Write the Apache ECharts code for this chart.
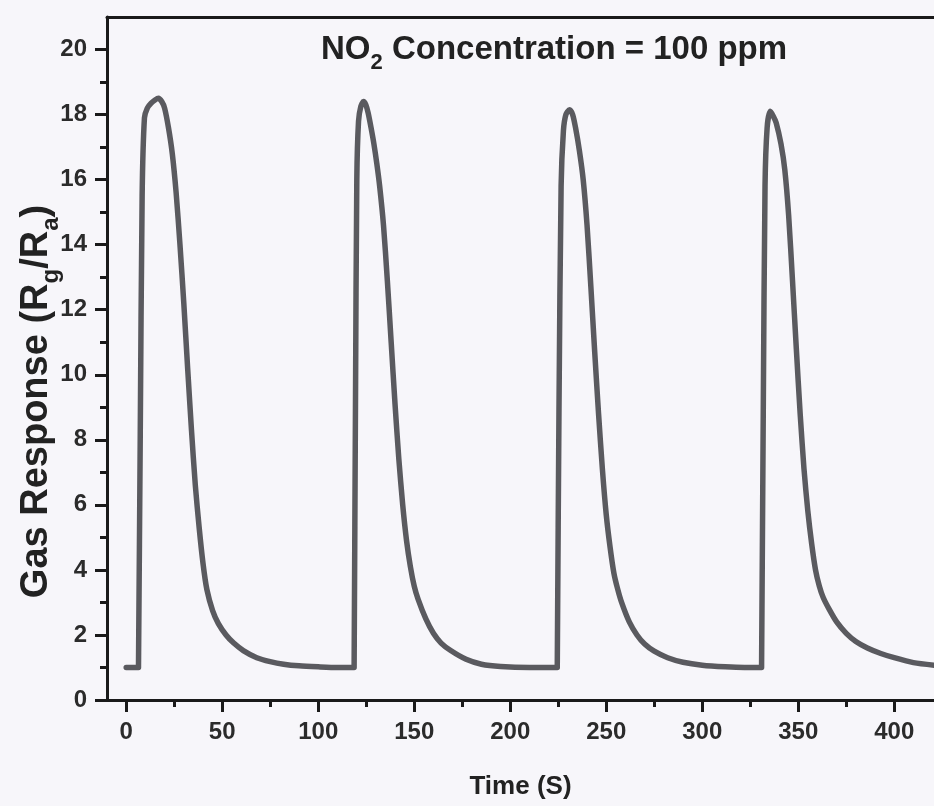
<!DOCTYPE html>
<html>
<head>
<meta charset="utf-8">
<title>NO2 gas response</title>
<script src="https://cdn.jsdelivr.net/npm/echarts@6/dist/echarts.min.js"></script>
<style>
    html, body { margin: 0; padding: 0; background: #f7f6fa; }
    #grafico { width: 934px; height: 806px; }
</style>
</head>
<body>
<div id="grafico"></div>
<script>
// ===== dados (tempo em s, resposta Rg/Ra) =====
const ciclo1Tempo = [0, 6.4, 6.5, 7.3, 8.3, 9.5, 11, 13, 15, 16.8, 18.5, 20, 22, 24, 26, 28, 30, 32, 34, 36, 38, 40, 42, 45, 48, 52, 56, 61, 68, 75, 82, 90, 100, 110];
const ciclo1Resp  = [1.0, 1.0, 1.0, 8.0, 15.5, 17.9, 18.2, 18.35, 18.45, 18.5, 18.4, 18.2, 17.6, 16.8, 15.6, 14.0, 12.2, 10.2, 8.3, 6.6, 5.3, 4.2, 3.4, 2.75, 2.35, 2.0, 1.75, 1.52, 1.3, 1.18, 1.1, 1.05, 1.02, 1.0];

const ciclo2Tempo = [118.7, 118.8, 119.4, 120.1, 121, 122.2, 123.6, 124.8, 126, 127.5, 129, 130.5, 132, 134, 136, 138, 140, 142, 144, 146, 148, 150, 152, 156, 160, 164, 169, 177, 185, 195, 210];
const ciclo2Resp  = [1.0, 1.0, 9.0, 16.0, 17.8, 18.25, 18.4, 18.3, 18.05, 17.6, 17.1, 16.5, 15.8, 14.6, 12.9, 11.0, 9.1, 7.4, 6.0, 4.9, 4.1, 3.5, 3.1, 2.5, 2.05, 1.75, 1.52, 1.25, 1.1, 1.03, 1.0];

const ciclo3Tempo = [224.5, 224.6, 225.4, 226.5, 227.7, 229, 230.9, 232.5, 234, 236, 238, 240, 242, 244, 246, 248, 250, 252, 254, 256, 258, 262, 266, 270, 275, 282, 290, 300, 312, 322];
const ciclo3Resp  = [1.0, 1.0, 9.0, 15.8, 17.5, 18.0, 18.15, 18.0, 17.6, 16.9, 16.0, 14.6, 12.7, 10.7, 8.8, 7.1, 5.7, 4.7, 3.9, 3.4, 3.0, 2.4, 2.0, 1.72, 1.5, 1.3, 1.16, 1.07, 1.02, 1.0];

const ciclo4Tempo = [330.9, 331, 331.8, 332.7, 333.8, 335.4, 337, 338.5, 341, 343, 345, 347, 349, 351, 353, 355, 357, 359, 361, 363, 366, 370, 375, 380, 386, 393, 400, 410, 421];
const ciclo4Resp  = [1.0, 1.0, 9.0, 15.8, 17.6, 18.1, 17.95, 17.75, 17.1, 16.3, 14.9, 12.9, 10.8, 8.8, 7.1, 5.8, 4.8, 4.0, 3.5, 3.15, 2.8, 2.4, 2.05, 1.8, 1.6, 1.43, 1.3, 1.15, 1.07];

// ticks
const xMaiores = [0, 50, 100, 150, 200, 250, 300, 350, 400];
const xMenores = [25, 75, 125, 175, 225, 275, 325, 375];
const yMaiores = [0, 2, 4, 6, 8, 10, 12, 14, 16, 18, 20];
const yMenores = [1, 3, 5, 7, 9, 11, 13, 15, 17, 19];

// ===== montagem =====
const fonte = "'Liberation Sans', Arial, Helvetica, sans-serif";
const corEixo = '#1a1a1a';
const corTexto = '#2b2b2b';

function juntarCiclos() {
    const pares = [];
    [[ciclo1Tempo, ciclo1Resp], [ciclo2Tempo, ciclo2Resp], [ciclo3Tempo, ciclo3Resp], [ciclo4Tempo, ciclo4Resp]]
        .forEach(([t, r]) => t.forEach((v, i) => pares.push([v, r[i]])));
    return pares;
}

const xMin = -10, xMax = 420.7;
const yMin = 0, yMax = 21;

const linhaEixo = { color: corEixo, width: 3 };
const rotulo = { fontFamily: fonte, fontSize: 24, fontWeight: 'bold', color: corTexto };

const grafico = echarts.init(document.getElementById('grafico'));

grafico.setOption({
    animation: false,
    backgroundColor: '#f7f6fa',
    title: {
        text: '{b|NO}{s|2}{b| Concentration = 100 ppm}',
        left: 316,
        top: 21,
        textStyle: {
            rich: {
                b: { fontFamily: fonte, fontSize: 33, fontWeight: 'bold', color: '#222', lineHeight: 48 },
                s: { fontFamily: fonte, fontSize: 22, fontWeight: 'bold', color: '#222', lineHeight: 22, verticalAlign: 'bottom' }
            }
        }
    },
    grid: {
        left: 107,
        right: 0,
        top: 17,
        bottom: 106,
        containLabel: false,
        outerBoundsMode: 'none'
    },
    xAxis: [
        {
            type: 'value',
            min: xMin,
            max: xMax,
            position: 'bottom',
            axisLine: { show: true, onZero: false, lineStyle: linhaEixo },
            axisTick: { show: true, customValues: xMaiores, length: 12, lineStyle: linhaEixo },
            axisLabel: Object.assign({ customValues: xMaiores, margin: 20 }, rotulo),
            splitLine: { show: false },
            name: 'Time (S)',
            nameLocation: 'middle',
            nameGap: 74,
            nameMoveOverlap: false,
            nameTextStyle: { fontFamily: fonte, fontSize: 26, fontWeight: 'bold', color: '#222' }
        },
        {
            type: 'value',
            min: xMin,
            max: xMax,
            position: 'bottom',
            axisLine: { show: false, onZero: false },
            axisTick: { show: true, customValues: xMenores, length: 7, lineStyle: linhaEixo },
            axisLabel: { show: false },
            splitLine: { show: false }
        },
        {
            type: 'value',
            min: xMin,
            max: xMax,
            position: 'top',
            axisLine: { show: true, onZero: false, lineStyle: linhaEixo },
            axisTick: { show: false },
            axisLabel: { show: false },
            splitLine: { show: false }
        }
    ],
    yAxis: [
        {
            type: 'value',
            min: yMin,
            max: yMax,
            position: 'left',
            axisLine: { show: true, onZero: false, lineStyle: linhaEixo },
            axisTick: { show: true, customValues: yMaiores, length: 12, lineStyle: linhaEixo },
            axisLabel: Object.assign({ customValues: yMaiores, margin: 20 }, rotulo),
            splitLine: { show: false },
            name: '{b|Gas Response (R}{s|g}{b|/R}{s|a}{b|)}',
            nameLocation: 'middle',
            nameRotate: 90,
            nameGap: 44,
            nameMoveOverlap: false,
            nameTextStyle: {
                padding: [0, 86, 0, 0],
                rich: {
                    b: { fontFamily: fonte, fontSize: 38, fontWeight: 'bold', color: '#222', lineHeight: 52 },
                    s: { fontFamily: fonte, fontSize: 24, fontWeight: 'bold', color: '#222', lineHeight: 24, verticalAlign: 'bottom' }
                }
            }
        },
        {
            type: 'value',
            min: yMin,
            max: yMax,
            position: 'left',
            axisLine: { show: false, onZero: false },
            axisTick: { show: true, customValues: yMenores, length: 7, lineStyle: linhaEixo },
            axisLabel: { show: false },
            splitLine: { show: false }
        }
    ],
    series: [
        {
            name: 'Gas Response',
            type: 'line',
            xAxisIndex: 0,
            yAxisIndex: 0,
            showSymbol: false,
            symbol: 'none',
            smooth: 0.25,
            lineStyle: { color: '#5a5a5f', width: 5.5, cap: 'round', join: 'round' },
            data: juntarCiclos()
        }
    ]
});
</script>
</body>
</html>
